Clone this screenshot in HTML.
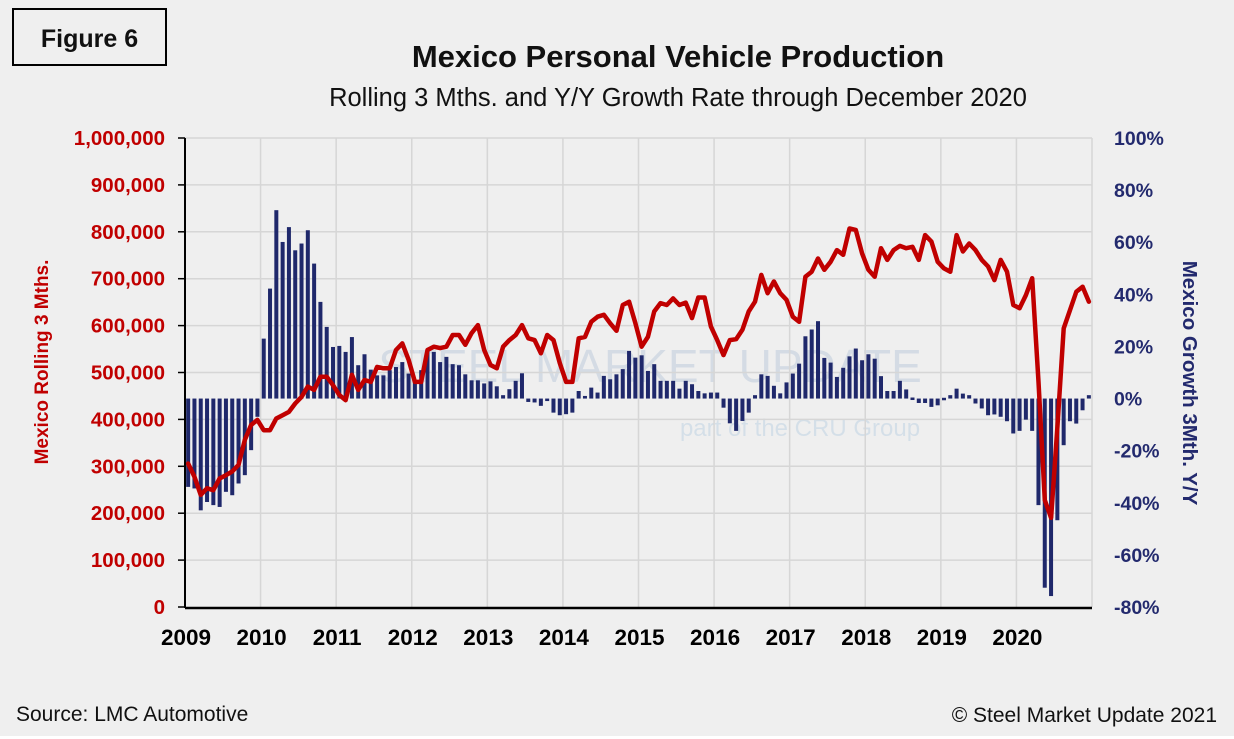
<!DOCTYPE html>
<html><head><meta charset="utf-8"><style>
html,body{margin:0;padding:0;background:#fff}
#wrap{position:relative;width:1234px;height:739px;background:#fff;overflow:hidden;font-family:"Liberation Sans",sans-serif}
svg text{font-family:"Liberation Sans",sans-serif}
</style></head><body>
<div id="wrap">
<svg id="chart" width="1234" height="739" viewBox="0 0 1234 739">
<rect x="0" y="0" width="1234" height="736" fill="#efefef"/>
<rect x="13" y="9" width="153" height="56" fill="none" stroke="#000" stroke-width="2"/>
<text x="89.5" y="47" text-anchor="middle" font-size="25" font-weight="bold" fill="#111">Figure 6</text>
<text x="678" y="67" text-anchor="middle" font-size="31" font-weight="bold" fill="#111">Mexico Personal Vehicle Production</text>
<text x="678" y="106" text-anchor="middle" font-size="25.5" fill="#111">Rolling 3 Mths. and Y/Y Growth Rate through December 2020</text>
<g opacity="0.14">
<text x="650" y="382" text-anchor="middle" font-size="46" fill="#3b6aa8">STEEL MARKET UPDATE</text>
<text x="800" y="436" text-anchor="middle" font-size="24" fill="#3b82c4">part of the CRU Group</text>
</g>
<g id="grid"></g>
<g id="bars"></g>
<g id="line"></g>
<g id="axes"></g>
<text transform="translate(48,362) rotate(-90)" text-anchor="middle" font-size="19" font-weight="bold" fill="#c00000">Mexico  Rolling 3 Mths.</text>
<text transform="translate(1183,383) rotate(90)" text-anchor="middle" font-size="20.5" font-weight="bold" fill="#232a6e">Mexico Growth 3Mth. Y/Y</text>
<text x="16" y="721" font-size="21" fill="#111">Source: LMC Automotive</text>
<text x="1217" y="722" text-anchor="end" font-size="21" fill="#111">© Steel Market Update 2021</text>
</svg>
</div>
<script>
const years = ["2009","2010","2011","2012","2013","2014","2015","2016","2017","2018","2019","2020"];
const leftTicks = [0,100000,200000,300000,400000,500000,600000,700000,800000,900000,1000000];
const rightTicks = [-80,-60,-40,-20,0,20,40,60,80,100];
const production = [
306,278,239,253,249,274,281,289,303,356,388,399,
377,377,402,409,416,434,448,470,463,491,491,473,
452,441,495,463,484,480,512,509,509,548,562,527,
480,480,548,555,552,555,580,580,559,584,601,548,
516,509,555,569,580,601,573,569,541,580,569,520,
480,480,573,576,608,619,623,605,589,644,651,605,
555,576,630,648,644,658,644,649,616,660,660,598,
569,537,569,571,591,630,651,708,669,694,669,655,
619,608,704,715,743,719,736,761,751,807,804,754,
719,704,765,740,761,770,765,768,740,793,779,736,
722,715,793,758,775,761,740,726,697,740,715,644,
637,665,701,480,228,190,384,594,633,672,683,651];
const growth = [
-33.9,-34.5,-42.9,-39.7,-40.9,-41.6,-35.8,-37.1,-32.6,-29.4,-19.8,-7.0,
23.0,42.2,72.3,60.1,65.8,56.9,59.5,64.6,51.8,37.1,27.5,19.8,
20.2,17.9,23.6,12.8,17.0,11.1,8.9,8.9,10.9,12.1,14.0,9.6,
6.4,10.9,18.5,17.9,14.0,16.0,13.2,12.8,9.3,7.0,7.0,5.8,
6.6,4.7,1.3,3.6,6.8,9.7,-1.3,-1.5,-2.8,-0.9,-5.4,-6.4,
-6.0,-5.4,2.9,1.0,4.2,2.3,8.7,7.4,9.3,11.3,18.3,15.7,
16.6,10.6,13.2,6.8,6.8,6.8,3.8,6.8,5.5,2.9,2.0,2.3,
2.3,-3.5,-9.5,-12.4,-8.6,-5.4,1.3,9.3,8.7,4.9,2.0,6.2,
9.6,13.4,23.9,26.5,29.7,15.6,13.8,8.3,11.8,16.2,19.2,14.7,
17.0,15.3,8.6,2.9,2.9,6.8,3.5,0.4,-1.7,-1.7,-3.2,-2.6,
0.3,1.3,3.8,1.9,1.3,-1.9,-3.8,-6.4,-6.1,-7.0,-8.7,-13.4,
-12.4,-8.1,-12.4,-40.9,-72.6,-75.8,-46.7,-17.9,-8.7,-9.6,-4.5,1.3];

const NS="http://www.w3.org/2000/svg";
const X0=185,X1=1092,YT=138,YB=607;
const nMonths=144;
const xMonth=i=>X0+(i+0.5)*(X1-X0)/nMonths;
const xYear=k=>X0+k*(X1-X0)/12;
const yLeft=v=>YB-(v/1000000)*(YB-YT);
const yRight=p=>YB-((p+80)/180)*(YB-YT);
function mk(tag,attrs,parent){const e=document.createElementNS(NS,tag);for(const k in attrs)e.setAttribute(k,attrs[k]);parent.appendChild(e);return e;}
const grid=document.getElementById('grid'),bars=document.getElementById('bars'),line=document.getElementById('line'),axes=document.getElementById('axes');
leftTicks.forEach(v=>{
 const y=yLeft(v);
 if(v>0){const g=mk('line',{x1:X0,x2:X1,y1:y,y2:y,stroke:'#d6d6d6','stroke-width':1.5},grid);
 
 }
 const t=mk('line',{x1:X0-7,x2:X0,y1:y,y2:y,stroke:'#000','stroke-width':1.5},axes);
 
 
 const tx=mk('text',{x:165,y:y+7,'text-anchor':'end','font-size':20.5,'font-weight':'bold',fill:'#c00000'},axes);
 tx.textContent=v.toLocaleString('en-US');
 
 
});
for(let k=1;k<=12;k++){
 const x=xYear(k);
 const g=mk('line',{x1:x,x2:x,y1:YT,y2:YB,stroke:'#d6d6d6','stroke-width':1.5},grid);
 
 
}
years.forEach((yr,k)=>{
 const tx=mk('text',{x:xYear(k)+1,y:645,'text-anchor':'middle','font-size':22.5,'font-weight':'bold',fill:'#000'},axes);
 tx.textContent=yr;
 
 
});
rightTicks.forEach(p=>{
 const tx=mk('text',{x:1114,y:yRight(p)+7,'font-size':19.5,'font-weight':'bold',fill:'#232a6e'},axes);
 tx.textContent=p+'%';
 
 
});
const y0=yRight(0);
growth.forEach((p,i)=>{
 const x=xMonth(i),y=yRight(p);
 const r=mk('rect',{x:x-2,y:Math.min(y,y0),width:4,height:Math.max(Math.abs(y-y0),2.5),fill:'#1f286b'},bars);
 
 
});
const pts=production.map((v,i)=>xMonth(i).toFixed(1)+','+yLeft(v*1000).toFixed(1)).join(' ');
const pl=mk('polyline',{points:pts,fill:'none',stroke:'#c00000','stroke-width':4.5,'stroke-linejoin':'round','stroke-linecap':'round'},line);


const la=mk('line',{x1:X0,x2:X0,y1:YT,y2:YB+1,stroke:'#000','stroke-width':2},axes);


const ba=mk('line',{x1:X0,x2:X1,y1:YB+1,y2:YB+1,stroke:'#000','stroke-width':2.5},axes);


</script>
</body></html>
